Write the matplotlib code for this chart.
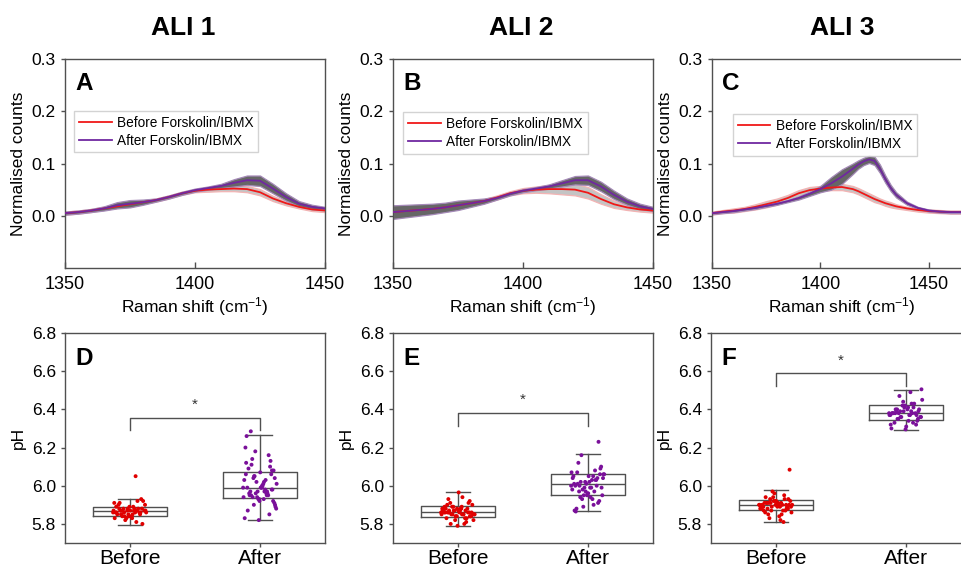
import numpy as np
import matplotlib
matplotlib.use("Agg")
import matplotlib.pyplot as plt

plt.rcParams['font.family'] = ['Liberation Sans', 'DejaVu Sans']
plt.rcParams['mathtext.default'] = 'regular'

# ---------------- Spectra data ----------------
shift_AB = [1350, 1355, 1360, 1365, 1370, 1375, 1380, 1385, 1390, 1395, 1400,
            1405, 1410, 1415, 1420, 1425, 1430, 1435, 1440, 1445, 1450]
shift_C = [1350, 1355, 1360, 1365, 1370, 1375, 1380, 1385, 1390, 1395, 1400,
           1405, 1410, 1415, 1417.5, 1420, 1422.5, 1425, 1427.5, 1430, 1432.5, 1435,
           1440, 1445, 1450, 1455, 1460, 1465, 1470]

A_before = [0.005, 0.007, 0.010, 0.014, 0.018, 0.022, 0.026, 0.030, 0.036, 0.043, 0.048,
            0.050, 0.051, 0.052, 0.051, 0.045, 0.033, 0.024, 0.017, 0.012, 0.010]
A_before_sd = [0.003, 0.003, 0.003, 0.003, 0.003, 0.003, 0.003, 0.003, 0.003, 0.003, 0.003,
               0.004, 0.004, 0.005, 0.006, 0.006, 0.005, 0.004, 0.003, 0.003, 0.003]
A_after = [0.005, 0.007, 0.010, 0.014, 0.020, 0.023, 0.026, 0.030, 0.036, 0.043, 0.049,
           0.053, 0.057, 0.063, 0.068, 0.067, 0.052, 0.036, 0.023, 0.017, 0.014]
A_after_sd = [0.003, 0.003, 0.003, 0.004, 0.006, 0.007, 0.005, 0.003, 0.003, 0.003, 0.003,
              0.003, 0.004, 0.007, 0.009, 0.010, 0.009, 0.007, 0.005, 0.004, 0.003]

B_before = [0.007, 0.009, 0.011, 0.013, 0.016, 0.020, 0.024, 0.028, 0.035, 0.043, 0.048,
            0.050, 0.051, 0.051, 0.050, 0.044, 0.032, 0.022, 0.016, 0.012, 0.010]
B_before_sd = [0.004, 0.004, 0.004, 0.004, 0.004, 0.004, 0.004, 0.004, 0.004, 0.004, 0.005,
               0.006, 0.008, 0.010, 0.011, 0.011, 0.009, 0.007, 0.005, 0.004, 0.004]
B_after = [0.007, 0.009, 0.011, 0.013, 0.016, 0.020, 0.024, 0.028, 0.034, 0.042, 0.048,
           0.052, 0.056, 0.062, 0.068, 0.068, 0.056, 0.040, 0.027, 0.018, 0.013]
B_after_sd = [0.013, 0.012, 0.011, 0.010, 0.009, 0.009, 0.007, 0.005, 0.003, 0.003, 0.003,
              0.003, 0.004, 0.006, 0.008, 0.009, 0.009, 0.008, 0.006, 0.005, 0.004]

C_before = [0.005, 0.008, 0.010, 0.013, 0.017, 0.022, 0.027, 0.034, 0.043, 0.049, 0.052,
            0.054, 0.055, 0.051, 0.047, 0.042, 0.037, 0.032, 0.028, 0.024, 0.021, 0.018,
            0.014, 0.011, 0.009, 0.008, 0.007, 0.007, 0.007]
C_before_sd = [0.003, 0.003, 0.004, 0.004, 0.005, 0.006, 0.006, 0.006, 0.006, 0.006, 0.005,
               0.005, 0.006, 0.006, 0.006, 0.006, 0.006, 0.006, 0.005, 0.005, 0.005, 0.004,
               0.003, 0.003, 0.003, 0.003, 0.003, 0.003, 0.003]
C_after = [0.005, 0.007, 0.009, 0.012, 0.015, 0.019, 0.023, 0.028, 0.034, 0.042, 0.051,
           0.062, 0.075, 0.090, 0.098, 0.104, 0.108, 0.105, 0.090, 0.070, 0.053, 0.040,
           0.024, 0.015, 0.010, 0.008, 0.007, 0.007, 0.007]
C_after_sd = [0.002, 0.002, 0.002, 0.002, 0.002, 0.002, 0.002, 0.002, 0.003, 0.004, 0.006,
              0.012, 0.014, 0.010, 0.008, 0.007, 0.007, 0.008, 0.008, 0.007, 0.006, 0.005,
              0.003, 0.002, 0.002, 0.002, 0.002, 0.002, 0.002]

# ---------------- pH data ----------------
groups = ['Before', 'After']

D_before = [5.86, 5.87, 5.85, 5.88, 5.84, 5.89, 5.87, 5.86, 5.90, 5.83, 5.88, 5.85, 5.87, 5.91,
            5.86, 5.84, 5.92, 5.87, 5.85, 5.88, 5.82, 5.86, 5.89, 5.87, 5.93, 5.85, 5.86, 5.81,
            5.88, 5.87, 5.84, 5.90, 5.86, 5.83, 5.87, 5.88, 5.85, 5.80, 5.89, 5.86, 5.92, 5.84,
            5.87, 5.85, 5.91, 5.86, 5.88, 5.83, 6.05, 5.87]
D_after = [5.99, 6.02, 5.95, 6.08, 5.93, 6.12, 5.97, 6.05, 5.90, 6.00, 5.96, 6.10, 5.94, 6.03,
           5.98, 6.14, 5.92, 6.07, 5.99, 5.95, 6.18, 5.88, 6.01, 5.97, 6.06, 5.93, 6.20, 5.96,
           6.04, 5.91, 5.99, 6.09, 5.85, 6.02, 5.94, 5.97, 6.11, 5.98, 5.92, 6.26, 5.96, 6.05,
           5.89, 6.00, 5.95, 6.13, 5.97, 5.83, 6.03, 5.94, 6.08, 5.99, 5.87, 6.16, 5.96, 6.01,
           5.93, 6.285, 5.98, 5.82, 6.06, 5.95, 5.90, 6.04, 5.99]
E_before = [5.86, 5.85, 5.87, 5.84, 5.88, 5.86, 5.83, 5.89, 5.85, 5.87, 5.90, 5.86, 5.82, 5.88,
            5.85, 5.91, 5.84, 5.87, 5.86, 5.81, 5.89, 5.85, 5.88, 5.93, 5.86, 5.84, 5.87, 5.80,
            5.85, 5.90, 5.86, 5.83, 5.88, 5.87, 5.85, 5.94, 5.86, 5.84, 5.79, 5.89, 5.87, 5.85,
            5.82, 5.88, 5.86, 5.91, 5.84, 5.87, 5.85, 5.80, 5.86, 5.965, 5.88, 5.83, 5.87, 5.85,
            5.89, 5.86, 5.92, 5.84]
E_after = [6.00, 6.03, 5.97, 6.06, 5.95, 6.01, 6.08, 5.93, 6.04, 5.99, 6.07, 5.91, 6.02, 5.98,
           6.05, 5.94, 6.10, 5.96, 6.00, 6.03, 5.89, 6.06, 5.99, 6.12, 5.92, 6.01, 6.05, 5.97,
           6.16, 5.95, 6.02, 5.88, 6.04, 5.99, 6.07, 5.93, 6.00, 6.09, 5.96, 5.87, 6.03, 5.98,
           6.06, 5.94, 6.01, 6.23, 5.97, 6.04, 5.90, 6.02, 5.99, 6.05, 5.865, 6.00, 5.95]
F_before = [5.90, 5.89, 5.91, 5.88, 5.92, 5.90, 5.87, 5.93, 5.89, 5.91, 5.86, 5.90, 5.94, 5.88,
            5.91, 5.85, 5.90, 5.92, 5.89, 5.95, 5.87, 5.90, 5.84, 5.91, 5.89, 5.96, 5.88, 5.90,
            5.83, 5.92, 5.89, 5.91, 5.87, 5.97, 5.90, 5.82, 5.88, 5.93, 5.90, 5.89, 5.81, 5.91,
            5.86, 5.90, 5.94, 5.88, 5.92, 5.89, 5.85, 5.91, 6.084, 5.90, 5.87, 5.93, 5.89]
F_after = [6.38, 6.37, 6.40, 6.35, 6.42, 6.38, 6.33, 6.39, 6.36, 6.41, 6.38, 6.32, 6.44, 6.37,
           6.39, 6.35, 6.40, 6.31, 6.38, 6.43, 6.36, 6.45, 6.37, 6.39, 6.34, 6.41, 6.30, 6.38,
           6.47, 6.36, 6.40, 6.33, 6.38, 6.42, 6.37, 6.49, 6.35, 6.39, 6.295, 6.38, 6.41, 6.36,
           6.505, 6.34, 6.40, 6.37, 6.39, 6.32, 6.43, 6.38]

# box statistics: (whislo, q1, median, q3, whishi)
D_box = [(5.795, 5.842, 5.869, 5.887, 5.929), (5.819, 5.938, 5.986, 6.074, 6.266)]
E_box = [(5.791, 5.837, 5.862, 5.892, 5.968), (5.867, 5.954, 6.007, 6.064, 6.168)]
F_box = [(5.810, 5.874, 5.898, 5.923, 5.977), (6.293, 6.344, 6.379, 6.421, 6.504)]

# significance bracket: (bar level, leg bottom)
D_sig = (6.356, 6.29)
E_sig = (6.383, 6.315)
F_sig = (6.59, 6.525)

titles = ['ALI 1', 'ALI 2', 'ALI 3']

RED = '#f01818'
PURPLE = '#7028a0'
EDGE = '#505050'

W, H = 962, 566
fig = plt.figure(figsize=(W / 100, H / 100), dpi=100)


def ax_at(left, top, w, h):
    return fig.add_axes([left / W, (H - top - h) / H, w / W, h / H])


top_axes = [ax_at(65, 59, 260, 209), ax_at(393, 59, 260, 209), ax_at(712, 59, 260, 209)]
bot_axes = [ax_at(65, 333, 260, 210), ax_at(393, 333, 260, 210), ax_at(711, 333, 260, 210)]

spectra = [
    (shift_AB, A_before, A_before_sd, A_after, A_after_sd, 1450),
    (shift_AB, B_before, B_before_sd, B_after, B_after_sd, 1450),
    (shift_C, C_before, C_before_sd, C_after, C_after_sd, 1470),
]
letters_top = ['A', 'B', 'C']
letters_bot = ['D', 'E', 'F']
legend_anchor = [(0.035, 0.752), (0.04, 0.746), (0.08, 0.737)]


def style_spines(ax):
    for s in ax.spines.values():
        s.set_color(EDGE)
        s.set_linewidth(1.0)


for ax, (xs, b, bsd, a, asd, xmax), letter, anc in zip(top_axes, spectra, letters_top, legend_anchor):
    xs = np.array(xs)
    b, bsd, a, asd = map(np.array, (b, bsd, a, asd))
    ax.fill_between(xs, b - bsd, b + bsd, facecolor='#c4c4c4', edgecolor='#f3b4b4', lw=0.9, zorder=1)
    ax.fill_between(xs, a - asd, a + asd, facecolor='#666666', edgecolor='#a58ab8', lw=0.9, zorder=2)
    ax.plot(xs, b, color=RED, lw=1.3, zorder=3, label='Before Forskolin/IBMX')
    ax.plot(xs, a, color=PURPLE, lw=1.3, zorder=4, label='After Forskolin/IBMX')
    ax.set_xlim(1350, xmax)
    ax.set_ylim(-0.1, 0.3)
    ax.set_xticks([1350, 1400, 1450])
    ax.set_yticks([0.0, 0.1, 0.2, 0.3])
    ax.yaxis.set_major_formatter(matplotlib.ticker.FormatStrFormatter('%.1f'))
    ax.tick_params(axis='x', direction='in', length=4, width=1, color=EDGE, labelsize=13, pad=6)
    ax.tick_params(axis='y', direction='out', length=3, width=1, color=EDGE, labelsize=12.5)
    ax.set_xlabel('Raman shift (cm$^{-1}$)', fontsize=12.5, labelpad=1)
    ax.set_ylabel('Normalised counts', fontsize=12.5, labelpad=4)
    style_spines(ax)
    leg = ax.legend(loc='upper left', bbox_to_anchor=anc, fontsize=9.8,
                    frameon=True, fancybox=False, edgecolor='#c8c8c8', handlelength=2.4,
                    labelspacing=0.3, borderpad=0.35, handletextpad=0.4, borderaxespad=0)
    leg.get_frame().set_linewidth(1.0)
    ax.text(0.04, 0.94, letter, transform=ax.transAxes, fontsize=17.5, fontweight='bold',
            ha='left', va='top')

ph_sets = [(D_before, D_after, D_box, D_sig), (E_before, E_after, E_box, E_sig),
           (F_before, F_after, F_box, F_sig)]

for ax, (pb, pa, box, sig), letter in zip(bot_axes, ph_sets, letters_bot):
    stats = []
    for lab, (lo, q1, med, q3, hi) in zip(groups, box):
        stats.append(dict(label=lab, whislo=lo, q1=q1, med=med, q3=q3, whishi=hi, fliers=[]))
    ax.bxp(stats, positions=[1, 2], widths=0.57, capwidths=0.18, showfliers=False,
           boxprops=dict(color=EDGE, lw=1.0), whiskerprops=dict(color=EDGE, lw=1.0),
           capprops=dict(color=EDGE, lw=1.0), medianprops=dict(color=EDGE, lw=1.0),
           manage_ticks=False, zorder=2)
    for pos, vals, col in [(1, pb, '#e00000'), (2, pa, '#7a109a')]:
        n = len(vals)
        idx = np.arange(n)
        frac = (idx * 0.6180339887) % 1.0
        off = (frac - 0.5) * 0.26
        ax.scatter(pos + off, vals, s=8, color=col, edgecolors='none', zorder=3)
    level, legbot = sig
    ax.plot([1, 1, 2, 2], [legbot, level, level, legbot], color=EDGE, lw=1.0)
    ax.text(1.5, level + 0.03, '*', ha='center', va='bottom', fontsize=11, color='#333333')
    ax.set_xlim(0.5, 2.5)
    ax.set_ylim(5.7, 6.8)
    ax.set_xticks([1, 2])
    ax.set_xticklabels(groups)
    ax.set_yticks([5.8, 6.0, 6.2, 6.4, 6.6, 6.8])
    ax.yaxis.set_major_formatter(matplotlib.ticker.FormatStrFormatter('%.1f'))
    ax.tick_params(axis='x', direction='out', length=3, width=1, color=EDGE, labelsize=15, pad=1)
    ax.tick_params(axis='y', direction='out', length=3, width=1, color=EDGE, labelsize=12.5)
    ax.set_ylabel('pH', fontsize=12.5, labelpad=4)
    style_spines(ax)
    ax.text(0.04, 0.935, letter, transform=ax.transAxes, fontsize=17.5, fontweight='bold',
            ha='left', va='top')

for xc, t in zip([183, 521, 842], titles):
    fig.text(xc / W, 1 - 28 / H, t, ha='center', va='center', fontsize=19, fontweight='bold')

fig.savefig('out.png', dpi=100)
